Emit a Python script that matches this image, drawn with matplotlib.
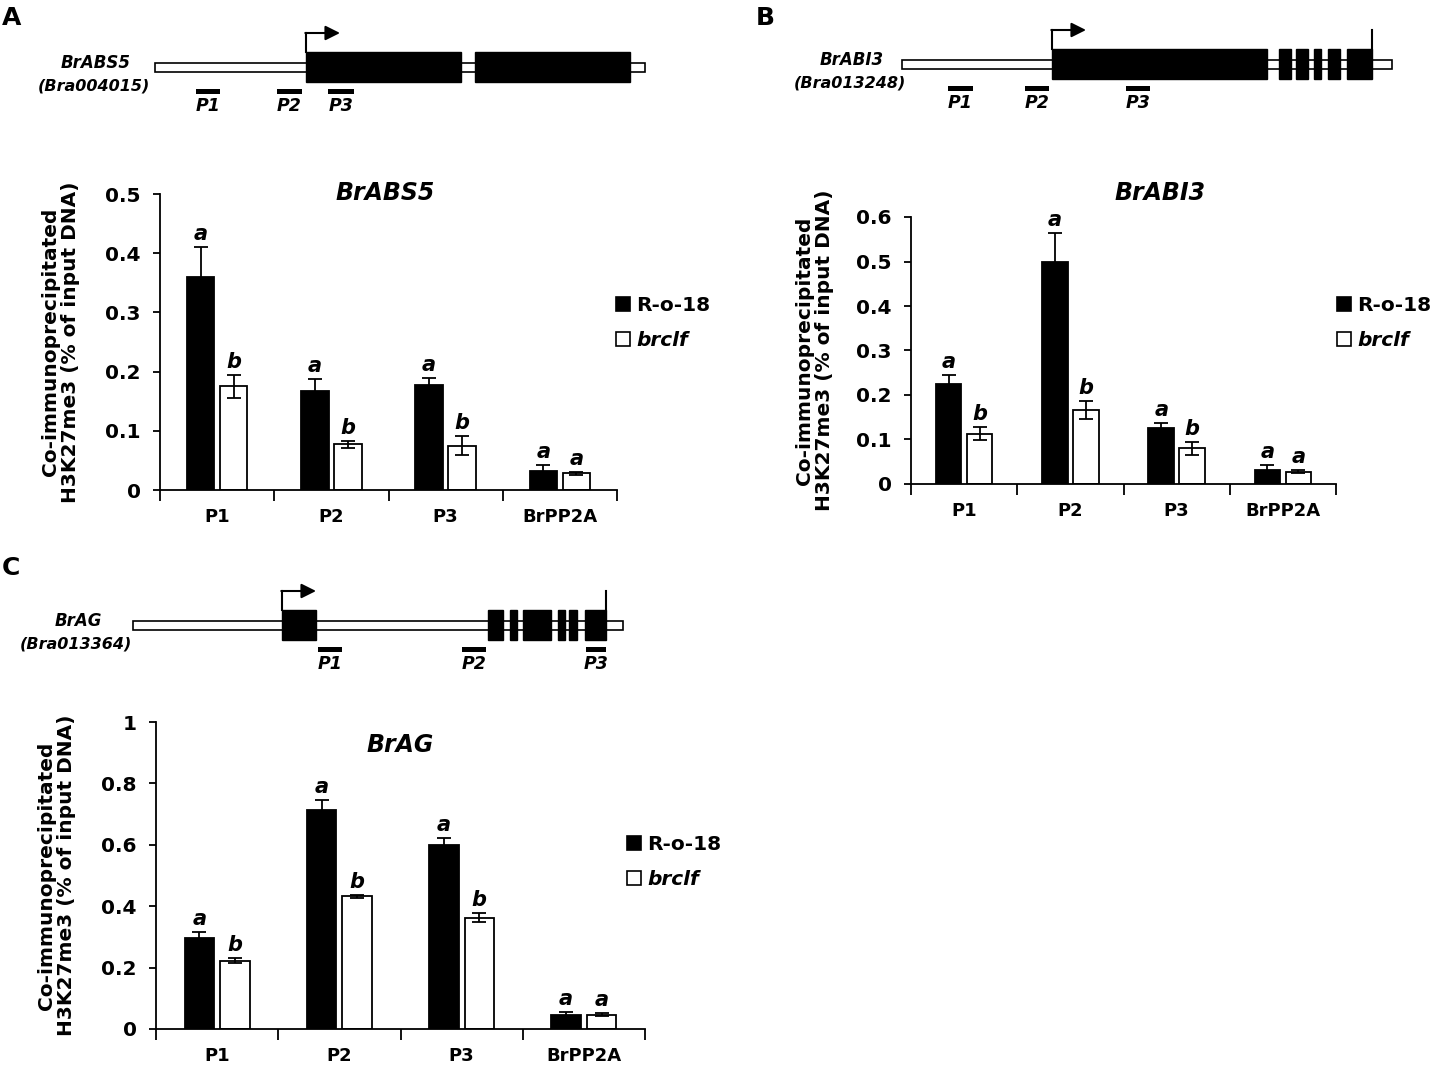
import matplotlib
matplotlib.use("Agg")
import matplotlib.pyplot as plt
from matplotlib.patches import Rectangle, Patch
from matplotlib.ticker import FuncFormatter

plt.rcParams['font.family'] = ['DejaVu Sans']
plt.rcParams['font.weight'] = 'bold'

W, H = 1438, 1066

categories = ["P1", "P2", "P3", "BrPP2A"]
series = ["R-o-18", "brclf"]

# panel A  BrABS5
abs5_wt = [0.360, 0.168, 0.177, 0.032]
abs5_wt_err = [0.050, 0.019, 0.012, 0.011]
abs5_mut = [0.175, 0.077, 0.075, 0.028]
abs5_mut_err = [0.020, 0.006, 0.016, 0.003]
abs5_sig = [["a", "a", "a", "a"], ["b", "b", "b", "a"]]

# panel B  BrABI3
abi3_wt = [0.225, 0.498, 0.125, 0.032]
abi3_wt_err = [0.021, 0.067, 0.012, 0.010]
abi3_mut = [0.113, 0.166, 0.080, 0.028]
abi3_mut_err = [0.015, 0.021, 0.014, 0.003]
abi3_sig = [["a", "a", "a", "a"], ["b", "b", "b", "a"]]

# panel C  BrAG
ag_wt = [0.295, 0.712, 0.600, 0.044]
ag_wt_err = [0.020, 0.033, 0.023, 0.010]
ag_mut = [0.223, 0.433, 0.362, 0.047]
ag_mut_err = [0.007, 0.005, 0.015, 0.005]
ag_sig = [["a", "a", "a", "a"], ["b", "b", "b", "a"]]

# gene schematics (figure pixel units)
abs5_gene = dict(span=(155, 645), exons=[(306, 461), (475, 630)], tss=306, stop=None,
                 primers=[(196, 220), (277, 302), (328, 354)])
abi3_gene = dict(span=(902, 1392), exons=[(1052, 1267), (1279, 1291), (1296, 1308), (1314, 1321),
                                          (1328, 1340), (1347, 1372)], tss=1052, stop=1372,
                 primers=[(948, 973), (1025, 1049), (1126, 1150)])
ag_gene = dict(span=(133, 623), exons=[(282, 316), (488, 503), (510, 517), (523, 551),
                                       (558, 565), (569, 577), (585, 606)], tss=282, stop=606,
               primers=[(318, 342), (462, 486), (586, 606)])


def fx(x):
    return x / W


def fy(y):
    return 1 - y / H


fig = plt.figure(figsize=(W / 100, H / 100), dpi=100)

# overlay for schematics and letters
ov = fig.add_axes([0, 0, 1, 1])
ov.set_xlim(0, W); ov.set_ylim(H, 0); ov.axis("off")


def draw_gene(g, yc, name, ident, namex):
    x0, x1 = g["span"]
    ov.add_patch(Rectangle((x0, yc - 4.5), x1 - x0, 9, fc="white", ec="black", lw=1.2, zorder=2))
    for a, b in g["exons"]:
        ov.add_patch(Rectangle((a, yc - 15), b - a, 30, fc="black", ec="black", lw=1, zorder=3))
    t = g["tss"]
    ov.plot([t, t], [yc - 15, yc - 34], color="black", lw=1.5, zorder=3)
    ov.annotate("", xy=(t + 34, yc - 34), xytext=(t - 0.7, yc - 34),
                arrowprops=dict(arrowstyle="-|>", color="black", lw=1.5, mutation_scale=22,
                                shrinkA=0, shrinkB=0), zorder=3)
    if g["stop"] is not None:
        s = g["stop"]
        ov.plot([s, s], [yc - 15, yc - 34], color="black", lw=1.5, zorder=3)
    for i, (a, b) in enumerate(g["primers"]):
        ov.add_patch(Rectangle((a, yc + 22), b - a, 5, fc="black", ec="none", zorder=3))
        ov.text((a + b) / 2, yc + 39, "P%d" % (i + 1), ha="center", va="center",
                fontsize=12.5, style="italic", weight="bold")
    ov.text(namex, yc - 4, name, ha="center", va="center", fontsize=12,
            style="italic", weight="bold")
    ov.text(namex - 2, yc + 19, ident, ha="center", va="center", fontsize=11.5,
            style="italic", weight="bold")


draw_gene(abs5_gene, 67, "BrABS5", "(Bra004015)", 96)
draw_gene(abi3_gene, 64, "BrABI3", "(Bra013248)", 852)
draw_gene(ag_gene, 625, "BrAG", "(Bra013364)", 78)

for letter, x, y in [("A", 12, 18), ("B", 765, 18), ("C", 11, 568)]:
    ov.text(x, y, letter, ha="center", va="center", fontsize=18, weight="bold")


def bar_panel(rect, wt, wt_err, mut, mut_err, sig, ymax, ystep, title, title_xy, leg_xy,
              label_x):
    l, r, b, t = rect
    ax = fig.add_axes([fx(l), fy(b), fx(r) - fx(l), fy(t) - fy(b)])
    ax.patch.set_alpha(0)
    xs = list(range(len(categories)))
    off, bw = 0.145, 0.24
    ekw = dict(ecolor="black", elinewidth=1.3, capsize=5, capthick=1.3)
    ax.bar([x - off for x in xs], wt, bw, yerr=wt_err, color="black", edgecolor="black",
           lw=1.3, error_kw=ekw, label=series[0])
    ax.bar([x + off for x in xs], mut, bw, yerr=mut_err, color="white", edgecolor="black",
           lw=1.3, error_kw=ekw, label=series[1])
    for x, v, e, s in zip(xs, wt, wt_err, sig[0]):
        ax.annotate(s, (x - off, v + e), xytext=(0, 5), textcoords="offset points",
                    ha="center", va="baseline", fontsize=15, style="italic", weight="bold")
    for x, v, e, s in zip(xs, mut, mut_err, sig[1]):
        ax.annotate(s, (x + off, v + e), xytext=(0, 5), textcoords="offset points",
                    ha="center", va="baseline", fontsize=15, style="italic", weight="bold")
    ax.set_xlim(-0.5, len(categories) - 0.5)
    ax.set_ylim(0, ymax)
    n = int(round(ymax / ystep))
    ax.set_yticks([i * ystep for i in range(n + 1)])
    ax.yaxis.set_major_formatter(FuncFormatter(lambda v, p: "%g" % round(v, 2)))
    ax.set_xticks([i - 0.5 for i in range(len(categories) + 1)])
    ax.set_xticklabels([])
    ax.set_xticks(xs, minor=True)
    ax.set_xticklabels(categories, minor=True)
    ax.tick_params(axis="x", which="major", direction="out", length=8, width=1.3)
    ax.tick_params(axis="x", which="minor", length=0, pad=13, labelsize=13)
    ax.tick_params(axis="y", direction="out", length=5, width=1.3, labelsize=14.5, pad=9)
    for sp in ["top", "right"]:
        ax.spines[sp].set_visible(False)
    for sp in ["left", "bottom"]:
        ax.spines[sp].set_linewidth(1.3)
    ax.set_ylabel("Co-immunoprecipitated\nH3K27me3 (% of input DNA)", fontsize=14.5,
                  weight="bold", linespacing=1.05)
    ax.yaxis.set_label_coords((label_x - l) / (r - l), 0.5)
    fig.text(fx(title_xy[0]), fy(title_xy[1]), title, ha="center", va="baseline",
             fontsize=17, style="italic", weight="bold")
    handles = [Patch(fc="black", ec="black", lw=1.2), Patch(fc="white", ec="black", lw=1.2)]
    leg = fig.legend(handles, series, loc="center left",
                     bbox_to_anchor=(fx(leg_xy[0]), fy(leg_xy[1])), frameon=False,
                     fontsize=14.5, handlelength=0.7, handleheight=0.65, handletextpad=0.3,
                     labelspacing=0.8, borderpad=0, borderaxespad=0)
    leg.get_texts()[1].set_style("italic")
    return ax


bar_panel((160, 617, 490, 194), abs5_wt, abs5_wt_err, abs5_mut, abs5_mut_err, abs5_sig,
          0.5, 0.1, "BrABS5", (385, 200), (616, 323), 80)
bar_panel((911, 1336, 484, 217), abi3_wt, abi3_wt_err, abi3_mut, abi3_mut_err, abi3_sig,
          0.6, 0.1, "BrABI3", (1160, 200), (1337, 323), 834)
bar_panel((156, 645, 1029, 722), ag_wt, ag_wt_err, ag_mut, ag_mut_err, ag_sig,
          1.0, 0.2, "BrAG", (400, 752), (627, 862), 76)

fig.savefig("out.png", dpi=100)
